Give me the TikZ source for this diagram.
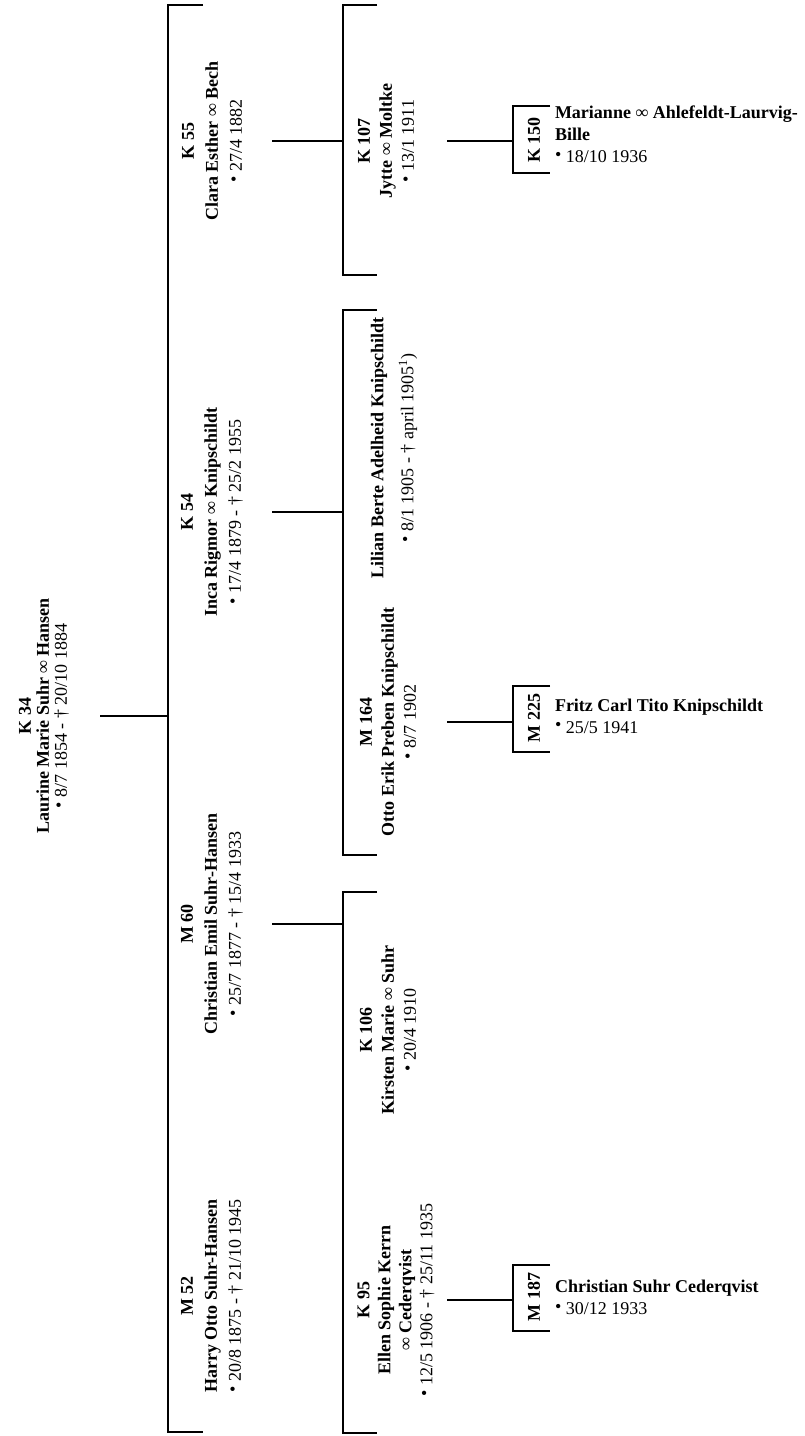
\documentclass[tikz,border=0pt]{standalone}
\usepackage{fontspec}
\setmainfont{Liberation Serif}
\newcommand{\bornsym}{\raisebox{.12em}{•}}
\begin{document}
\begin{tikzpicture}[x=1pt,y=-1pt,
  every node/.style={inner sep=0pt, outer sep=0pt},
  link/.style={line width=2.8pt},
  brk/.style={line width=2.8pt},
  rootp/.style={rotate=90, align=center, font=\fontsize{18}{18}\selectfont},
  lvlone/.style={rotate=90, align=center, font=\fontsize{18}{24}\selectfont},
  lvltwo/.style={rotate=90, align=center, font=\fontsize{18}{22}\selectfont},
  leafid/.style={rotate=90, font=\bfseries\fontsize{18}{22}\selectfont},
  leaf/.style={anchor=north west, align=left, font=\fontsize{18}{22}\selectfont},
]
\useasboundingbox (0,0) rectangle (805,1436);

% connector start columns and bracket spines
\coordinate (c1) at (100,0);
\coordinate (s1) at (168,0);
\coordinate (c2) at (272,0);
\coordinate (s2) at (343,0);
\coordinate (c3) at (447,0);
\coordinate (s3) at (513,0);

% root
\node[rootp] (k34) at (44,716) {\textbf{K 34}\\\textbf{Laurine Marie Suhr ∞ Hansen}\\\bornsym\ 8/7 1854 - † 20/10 1884};

% level 1
\node[lvlone] (k55) at (212,141) {\textbf{K 55}\\\textbf{Clara Esther ∞ Bech}\\\bornsym\ 27/4 1882};
\node[lvlone] (k54) at (212,512) {\textbf{K 54}\\\textbf{Inca Rigmor ∞ Knipschildt}\\\bornsym\ 17/4 1879 - † 25/2 1955};
\node[lvlone] (m60) at (212,924) {\textbf{M 60}\\\textbf{Christian Emil Suhr-Hansen}\\\bornsym\ 25/7 1877 - † 15/4 1933};
\node[lvlone] (m52) at (212,1296) {\textbf{M 52}\\\textbf{Harry Otto Suhr-Hansen}\\\bornsym\ 20/8 1875 - † 21/10 1945};

% level 2
\node[lvltwo] (k107) at (386,141) {\textbf{K 107}\\\textbf{Jytte ∞ Moltke}\\\bornsym\ 13/1 1911};
\node[lvltwo] (lilian) at (394,448) {\textbf{Lilian Berte Adelheid Knipschildt}\\[8pt]\bornsym\ 8/1 1905 - † april 1905\textsuperscript{1})};
\node[lvltwo] (m164) at (388,722) {\textbf{M 164}\\\textbf{Otto Erik Preben Knipschildt}\\\bornsym\ 8/7 1902};
\node[lvltwo] (k106) at (388,1030) {\textbf{K 106}\\\textbf{Kirsten Marie ∞ Suhr}\\\bornsym\ 20/4 1910};
\node[lvltwo, font=\fontsize{18}{21}\selectfont] (k95) at (396,1300) {\textbf{K 95}\\\textbf{Ellen Sophie Kerrn}\\\textbf{∞ Cederqvist}\\\bornsym\ 12/5 1906 - † 25/11 1935};

% level 3
\node[leafid] (k150) at (534,140) {K 150};
\node[leaf] (marianne) at (555,105.5) {\textbf{Marianne ∞ Ahlefeldt-Laurvig-}\\\textbf{Bille}\\\bornsym\ 18/10 1936};
\node[leafid] (m225) at (534,718) {M 225};
\node[leaf] (fritz) at (555,698.5) {\textbf{Fritz Carl Tito Knipschildt}\\\bornsym\ 25/5 1941};
\node[leafid] (m187) at (534,1297) {M 187};
\node[leaf] (christian) at (555,1280) {\textbf{Christian Suhr Cederqvist}\\\bornsym\ 30/12 1933};

% brackets
\draw[brk] (203,5) -- (168,5) -- (168,1432) -- (203,1432);
\draw[brk] (377,5) -- (343,5) -- (343,275) -- (377,275);
\draw[brk] (377,310) -- (343,310) -- (343,855) -- (377,855);
\draw[brk] (377,892) -- (343,892) -- (343,1433) -- (377,1433);
\draw[brk] (550,106) -- (513,106) -- (513,173) -- (550,173);
\draw[brk] (550,686) -- (513,686) -- (513,752) -- (550,752);
\draw[brk] (550,1265) -- (513,1265) -- (513,1331) -- (550,1331);

% connectors
\draw[link] (k34.south -| c1) -- (k34.south -| s1);
\draw[link] (k55.south -| c2) -- (k55.south -| s2);
\draw[link] (k54.south -| c2) -- (k54.south -| s2);
\draw[link] (m60.south -| c2) -- (m60.south -| s2);
\draw[link] (k107.south -| c3) -- (k107.south -| s3);
\draw[link] (m164.south -| c3) -- (m164.south -| s3);
\draw[link] (k95.south -| c3) -- (k95.south -| s3);
\end{tikzpicture}
\end{document}
